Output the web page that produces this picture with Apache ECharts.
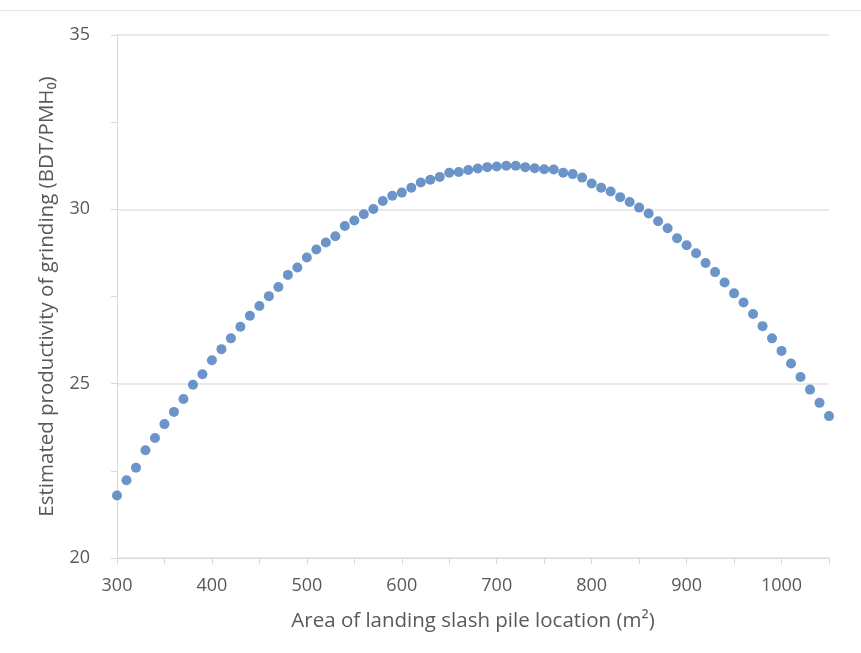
<!DOCTYPE html>
<html>
<head>
<meta charset="utf-8">
<script src="https://cdn.jsdelivr.net/npm/echarts@6/dist/echarts.min.js"></script>
<style>html,body{margin:0;padding:0;background:#fff}#c{width:861px;height:653px}</style>
</head>
<body>
<div id="c"></div>
<script>
const areas = [300,310,320,330,340,350,360,370,380,390,400,410,420,430,440,450,460,470,480,490,500,510,520,530,540,550,560,570,580,590,600,610,620,630,640,650,660,670,680,690,700,710,720,730,740,750,760,770,780,790,800,810,820,830,840,850,860,870,880,890,900,910,920,930,940,950,960,970,980,990,1000,1010,1020,1030,1040,1050];
const productivity = [21.79,22.23,22.59,23.09,23.44,23.84,24.19,24.56,24.97,25.27,25.67,25.99,26.30,26.63,26.95,27.23,27.51,27.77,28.12,28.33,28.62,28.85,29.05,29.23,29.52,29.68,29.86,30.01,30.24,30.39,30.48,30.62,30.77,30.85,30.93,31.05,31.07,31.13,31.17,31.21,31.23,31.25,31.25,31.21,31.18,31.15,31.14,31.05,31.01,30.91,30.74,30.62,30.51,30.35,30.21,30.05,29.88,29.66,29.46,29.17,28.97,28.74,28.46,28.20,27.90,27.59,27.33,27.00,26.65,26.30,25.94,25.58,25.19,24.83,24.45,24.07];
const xTitle = 'Area of landing slash pile location (m²)';
const yTitle = 'Estimated productivity of grinding (BDT/PMH₀)';

const points = areas.map((a, i) => [a, productivity[i]]);
const textColor = '#595959';
const lineColor = '#d9d9d9';
const font = '"Open Sans", "DejaVu Sans", sans-serif';

const chart = echarts.init(document.getElementById('c'));
chart.setOption({
  animation: false,
  backgroundColor: '#fff',
  graphic: [{
    type: 'line', shape: {x1: 0, y1: 10.5, x2: 861, y2: 10.5},
    style: {stroke: '#e6e6e6', lineWidth: 1}
  }],
  grid: {left: 117, right: 32, top: 35, bottom: 95, containLabel: false},
  xAxis: {
    type: 'value', min: 300, max: 1050, interval: 50,
    name: xTitle, nameLocation: 'middle', nameGap: 53,
    nameTextStyle: {color: textColor, fontSize: 20.5, fontFamily: font},
    axisLine: {show: true, lineStyle: {color: lineColor, width: 1}},
    axisTick: {show: true, inside: false, length: 6, lineStyle: {color: lineColor}},
    axisLabel: {
      color: textColor, fontSize: 18, fontFamily: font, margin: 19,
      formatter: v => (v % 100 === 0 ? String(v) : '')
    },
    splitLine: {show: false}
  },
  yAxis: {
    type: 'value', min: 20, max: 35, interval: 5,
    name: yTitle, nameLocation: 'middle', nameGap: 59,
    nameTextStyle: {color: textColor, fontSize: 20.5, fontFamily: font},
    axisLine: {show: true, lineStyle: {color: lineColor, width: 1}},
    axisTick: {show: true, inside: false, length: 6, lineStyle: {color: lineColor}},
    minorTick: {show: true, splitNumber: 2, length: 6, lineStyle: {color: lineColor}},
    minorSplitLine: {show: false},
    axisLabel: {color: textColor, fontSize: 18, fontFamily: font, margin: 27},
    splitLine: {show: true, lineStyle: {color: '#e3e3e3', width: 1.5}}
  },
  series: [{
    type: 'scatter',
    data: points,
    symbol: 'circle',
    symbolSize: 10,
    itemStyle: {color: '#4679bb'},
    z: 5
  }]
});
</script>
</body>
</html>
